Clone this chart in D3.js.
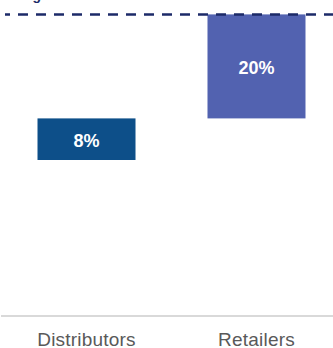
<!DOCTYPE html>
<html>
<head>
<meta charset="utf-8">
<script src="https://cdn.jsdelivr.net/npm/d3@7"></script>
<style>
  html, body { margin: 0; padding: 0; background: #ffffff; }
  svg { display: block; }
</style>
</head>
<body>
<svg id="chart" width="333" height="348"></svg>
<script>
// ---- data ----
const categories = ["Distributors", "Retailers"];
const increments = [8, 20];          // % added by each step
const startValue = 30;               // cumulative value before the first visible step (off-chart)
const labels = ["8%", "20%"];
const barColors = ["#0d4f89", "#5262b0"];
const titleText = "Pricing";         // cropped title, only its descender is visible

// cumulative waterfall positions
const steps = [];
let acc = startValue;
categories.forEach((c, i) => {
  steps.push({ cat: c, from: acc, to: acc + increments[i], label: labels[i], color: barColors[i] });
  acc += increments[i];
});
const totalValue = acc;

// ---- layout ----
const W = 333, H = 348;
const svg = d3.select("#chart");

const x = d3.scaleBand()
  .domain(categories)
  .range([1.5, 341.5])
  .paddingInner(0.4235)
  .paddingOuter(0.2118);

const y = d3.scaleLinear()
  .domain([0, 60])
  .range([316, 4]);

// cropped title
svg.append("text")
  .attr("x", 41).attr("y", 0)
  .attr("text-anchor", "end")
  .attr("font-family", "Liberation Sans, Arial, sans-serif")
  .attr("font-size", 14).attr("font-weight", "bold")
  .attr("fill", "#1c2a68")
  .text(titleText);

// bars
svg.selectAll("rect.bar")
  .data(steps)
  .join("rect")
  .attr("class", "bar")
  .attr("x", d => x(d.cat))
  .attr("width", x.bandwidth())
  .attr("y", d => y(d.to))
  .attr("height", d => y(d.from) - y(d.to))
  .attr("fill", d => d.color);

// bar labels
svg.selectAll("text.val")
  .data(steps)
  .join("text")
  .attr("class", "val")
  .attr("x", d => x(d.cat) + x.bandwidth() / 2)
  .attr("y", d => (y(d.from) + y(d.to)) / 2 + 7.3)
  .attr("text-anchor", "middle")
  .attr("font-family", "Liberation Sans, Arial, sans-serif")
  .attr("font-size", 18).attr("font-weight", "bold")
  .attr("fill", "#ffffff")
  .text(d => d.label);

// dashed total line
svg.append("line")
  .attr("x1", 5).attr("x2", W)
  .attr("y1", y(totalValue)).attr("y2", y(totalValue))
  .attr("stroke", "#1c2a68")
  .attr("stroke-width", 2.5)
  .attr("stroke-dasharray", "10,8")
  .attr("stroke-dashoffset", 5);

// x axis
const xAxis = svg.append("g")
  .attr("transform", `translate(0,${y(0)})`)
  .call(d3.axisBottom(x).tickSize(0).tickPadding(0));
xAxis.select(".domain").remove();
xAxis.append("line")
  .attr("x1", 1).attr("x2", W)
  .attr("y1", 0).attr("y2", 0)
  .attr("stroke", "#d9d9d9").attr("stroke-width", 2);
xAxis.selectAll(".tick text")
  .attr("y", 30)
  .attr("dy", 0)
  .attr("font-family", "Liberation Sans, Arial, sans-serif")
  .attr("font-size", 19)
  .attr("letter-spacing", 0.2)
  .attr("fill", "#595959");
</script>
</body>
</html>
